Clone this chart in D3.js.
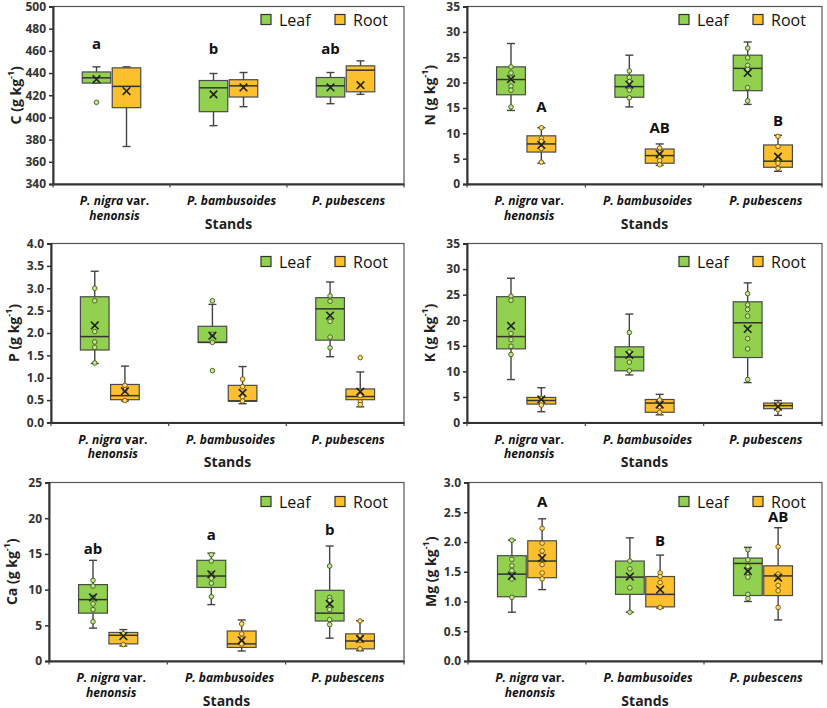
<!DOCTYPE html>
<html><head><meta charset="utf-8">
<script src="https://cdn.jsdelivr.net/npm/d3@7"></script>
<style>body{margin:0;background:#fff}</style>
</head><body>
<script>
// ---------- DATA ----------
const stands = ["P. nigra var. henonsis", "P. bambusoides", "P. pubescens"];
const tissues = ["Leaf", "Root"];
// stats per stand: [min, q1, median, q3, max, mean]
const C_leaf = [[431, 431, 435.7, 441, 445.6, 434.5], [392.6, 405.2, 426.7, 433.3, 439.6, 420.8], [412.4, 418.4, 428.5, 436.0, 440.5, 427.0]];
const C_root = [[373.8, 408.8, 428, 444.7, 445.6, 423.8], [409.7, 418.4, 428.5, 434, 440.5, 427.0], [420.8, 423.1, 442.6, 446.5, 451.0, 429.1]];
const C_leafPts = [[413.6], [], []];
const C_rootPts = [[], [], []];
const N_leaf = [[14.5, 17.6, 20.6, 23.1, 27.7, 20.7], [15.2, 17.1, 19.2, 21.5, 25.4, 19.6], [15.7, 18.4, 22.8, 25.4, 28.0, 21.9]];
const N_root = [[4.1, 6.3, 7.9, 9.5, 11.1, 7.7], [3.7, 4.1, 5.6, 6.9, 7.9, 5.9], [2.5, 3.3, 4.5, 7.7, 9.6, 5.4]];
const N_leafPts = [[23.1, 21.9, 20.9, 19.3, 18.5, 15.2], [22.3, 21.0, 20.2, 18.5, 17.0], [26.8, 24.9, 23.4, 22.6, 19.0, 16.4]];
const N_rootPts = [[11.1, 9.0, 8.4, 7.0, 4.3], [7.1, 6.2, 5.4, 4.6, 3.8], [9.4, 7.4, 5.0, 4.1, 3.1]];
const P_leaf = [[1.32, 1.62, 1.92, 2.81, 3.38, 2.17], [1.79, 1.79, 1.79, 2.15, 2.64, 1.94], [1.47, 1.84, 2.54, 2.79, 3.14, 2.39]];
const P_root = [[0.48, 0.51, 0.60, 0.85, 1.26, 0.70], [0.42, 0.48, 0.48, 0.83, 1.25, 0.66], [0.35, 0.51, 0.58, 0.75, 1.13, 0.69]];
const P_leafPts = [[3.0, 2.72, 2.03, 1.80, 1.68, 1.33], [2.72, 1.97, 1.79, 1.16], [2.83, 2.71, 2.26, 1.91, 1.67]];
const P_rootPts = [[0.83, 0.73, 0.49], [0.97, 0.80, 0.57, 0.48], [1.45, 0.60, 0.46, 0.40]];
const K_leaf = [[8.4, 14.4, 16.8, 24.6, 28.2, 18.9], [9.3, 10.1, 12.8, 14.8, 21.2, 13.2], [7.8, 12.7, 19.5, 23.6, 27.3, 18.3]];
const K_root = [[2.1, 3.6, 4.3, 4.9, 6.8, 4.5], [1.5, 2.0, 3.8, 4.5, 5.5, 3.5], [1.4, 2.7, 3.3, 3.8, 4.3, 3.1]];
const K_leafPts = [[24.7, 23.9, 17.4, 16.2, 14.9, 13.3], [17.6, 13.8, 11.8, 10.1], [25.2, 23.0, 22.1, 20.8, 16.4, 14.4, 8.4]];
const K_rootPts = [[4.7, 3.9, 3.4], [4.4, 3.1, 2.0], [3.4, 2.5]];
const Ca_leaf = [[4.6, 6.7, 8.6, 10.7, 14.1, 8.9], [7.9, 10.3, 11.9, 14.1, 15.1, 12.15], [3.2, 5.6, 6.7, 9.9, 16.1, 8.0]];
const Ca_root = [[2.1, 2.4, 3.6, 4.0, 4.4, 3.5], [1.4, 1.9, 2.4, 4.2, 5.75, 2.9], [1.45, 1.7, 2.8, 3.8, 5.65, 3.1]];
const Ca_leafPts = [[11.3, 10.5, 8.9, 8.0, 7.2, 5.5], [14.9, 14.0, 12.2, 11.6, 10.9, 9.0], [13.3, 8.9, 8.5, 7.2, 5.8, 5.1]];
const Ca_rootPts = [[3.8, 2.3], [5.2, 3.8, 3.1, 2.4], [5.6, 3.5, 2.9, 1.7]];
const Mg_leaf = [[0.82, 1.08, 1.46, 1.77, 2.03, 1.43], [0.82, 1.12, 1.41, 1.68, 2.07, 1.42], [1.00, 1.10, 1.64, 1.73, 1.91, 1.51]];
const Mg_root = [[1.20, 1.40, 1.68, 2.02, 2.39, 1.73], [0.89, 0.91, 1.12, 1.42, 1.78, 1.20], [0.69, 1.10, 1.43, 1.60, 2.24, 1.40]];
const Mg_leafPts = [[2.03, 1.71, 1.60, 1.52, 1.38, 1.07], [1.68, 1.55, 1.23, 0.82], [1.87, 1.70, 1.59, 1.48, 1.41, 1.12, 1.05]];
const Mg_rootPts = [[2.23, 1.98, 1.85, 1.77, 1.62, 1.48, 1.38], [1.48, 1.42, 1.32, 0.90], [1.92, 1.46, 1.41, 1.27, 1.18, 0.90]];
// significance letters and the value of their baseline
const C_letters = ["a", "b", "ab"], C_letterY = [462, 456.9, 456.9];
const N_letters = ["A", "AB", "B"], N_letterY = [14.1, 10.15, 11.5];
const Ca_letters = ["ab", "a", "b"], Ca_letterY = [14.95, 16.9, 17.6];
const Mg_letters = ["A", "B", "AB"], Mg_letterY = [2.58, 1.93, 2.33];
// y ticks
const C_ticks = d3.range(340, 501, 20);
const N_ticks = d3.range(0, 36, 5);
const P_ticks = d3.range(0, 4.01, 0.5);
const K_ticks = d3.range(0, 36, 5);
const Ca_ticks = d3.range(0, 26, 5);
const Mg_ticks = d3.range(0, 3.01, 0.5);

const panels = [
  {name: "C", leaf: C_leaf, root: C_root, lp: C_leafPts, rp: C_rootPts, ticks: C_ticks, fmt: d3.format("d"), letters: C_letters, letterY: C_letterY, letterOn: "Leaf"},
  {name: "N", leaf: N_leaf, root: N_root, lp: N_leafPts, rp: N_rootPts, ticks: N_ticks, fmt: d3.format("d"), letters: N_letters, letterY: N_letterY, letterOn: "Root"},
  {name: "P", leaf: P_leaf, root: P_root, lp: P_leafPts, rp: P_rootPts, ticks: P_ticks, fmt: d3.format(".1f")},
  {name: "K", leaf: K_leaf, root: K_root, lp: K_leafPts, rp: K_rootPts, ticks: K_ticks, fmt: d3.format("d")},
  {name: "Ca", leaf: Ca_leaf, root: Ca_root, lp: Ca_leafPts, rp: Ca_rootPts, ticks: Ca_ticks, fmt: d3.format("d"), letters: Ca_letters, letterY: Ca_letterY, letterOn: "Leaf"},
  {name: "Mg", leaf: Mg_leaf, root: Mg_root, lp: Mg_leafPts, rp: Mg_rootPts, ticks: Mg_ticks, fmt: d3.format(".1f"), letters: Mg_letters, letterY: Mg_letterY, letterOn: "Root"}
];

// ---------- LAYOUT ----------
const layout = [
  {x0: 53, x1: 404, y0: 6.5, y1: 184, ld: 8},
  {x0: 467, x1: 822, y0: 6.5, y1: 184, ld: 8},
  {x0: 51, x1: 404, y0: 243.5, y1: 422.5, ld: 13},
  {x0: 467, x1: 822, y0: 243.5, y1: 422.5, ld: 13},
  {x0: 49, x1: 404, y0: 482.5, y1: 661, ld: 14},
  {x0: 468, x1: 822, y0: 482.5, y1: 661, ld: 14}
];
const FONT = "'Open Sans', 'Noto Sans', sans-serif";
const fill = {Leaf: "#92d050", Root: "#fcbf2e"};
const ptFill = {Leaf: "#c3e68f", Root: "#ffdd6a"};
const ptStroke = {Leaf: "#3d5a1a", Root: "#6b5010"};

const svg = d3.select("body").append("svg").attr("width", 827).attr("height", 708)
  .style("font-family", FONT);

panels.forEach((p, i) => drawPanel(p, layout[i]));

function drawPanel(p, L) {
  const g = svg.append("g");
  const x = d3.scaleBand().domain(stands).range([L.x0, L.x1]);
  const y = d3.scaleLinear().domain([p.ticks[0], p.ticks[p.ticks.length - 1]]).range([L.y1, L.y0]);
  const sub = d3.scaleBand().domain(tissues).range([0, x.bandwidth()]).paddingInner(0.05).paddingOuter(0.975);

  // frame
  g.append("rect").attr("x", L.x0).attr("y", L.y0).attr("width", L.x1 - L.x0).attr("height", L.y1 - L.y0)
    .attr("fill", "none").attr("stroke", "#555").attr("stroke-width", 1.2);

  // y axis
  const ya = g.append("g").attr("transform", `translate(${L.x0},0)`)
    .call(d3.axisLeft(y).tickValues(p.ticks).tickSize(4).tickPadding(3).tickFormat(p.fmt));
  ya.select(".domain").attr("stroke", "#333").attr("stroke-width", 2);
  ya.selectAll(".tick line").attr("stroke", "#333").attr("stroke-width", 1.5);
  ya.selectAll(".tick text").attr("fill", "#333").style("font-size", "12px").style("font-weight", "700").style("font-family", FONT);

  // x axis
  const xa = g.append("g").attr("transform", `translate(0,${L.y1})`)
    .call(d3.axisBottom(x).tickSize(0).tickFormat(""));
  xa.select(".domain").attr("stroke", "#333").attr("stroke-width", 2.2);
  const bounds = stands.map(s => x(s)).concat([L.x1]);
  g.selectAll(".bt").data(bounds).join("line")
    .attr("x1", d => d).attr("x2", d => d).attr("y1", L.y1).attr("y2", L.y1 + 3.5)
    .attr("stroke", "#444").attr("stroke-width", 1.2);

  // boxes
  tissues.forEach(t => {
    const stats = t === "Leaf" ? p.leaf : p.root;
    const pts = t === "Leaf" ? p.lp : p.rp;
    stands.forEach((s, j) => {
      const [mn, q1, md, q3, mx, mean] = stats[j];
      const bx = x(s) + sub(t), bw = sub.bandwidth(), cx = bx + bw / 2;
      const gg = g.append("g");
      gg.append("line").attr("x1", cx).attr("x2", cx).attr("y1", y(mx)).attr("y2", y(mn))
        .attr("stroke", "#444").attr("stroke-width", 1.4);
      [mn, mx].forEach(v => gg.append("line").attr("x1", cx - 4).attr("x2", cx + 4).attr("y1", y(v)).attr("y2", y(v))
        .attr("stroke", "#444").attr("stroke-width", 1.4));
      gg.append("rect").attr("x", bx).attr("y", y(q3)).attr("width", bw).attr("height", Math.max(0.5, y(q1) - y(q3)))
        .attr("fill", fill[t]).attr("stroke", "#4a4a4a").attr("stroke-width", 1.2);
      gg.append("line").attr("x1", bx).attr("x2", bx + bw).attr("y1", y(md)).attr("y2", y(md))
        .attr("stroke", "#333").attr("stroke-width", 1.5);
      gg.selectAll("circle").data(pts[j]).join("circle")
        .attr("cx", cx).attr("cy", d => y(d)).attr("r", 2.3)
        .attr("fill", ptFill[t]).attr("stroke", ptStroke[t]).attr("stroke-width", 0.9);
      const my = y(mean), m = 3.8;
      gg.append("path").attr("d", `M${cx - m},${my - m}L${cx + m},${my + m}M${cx - m},${my + m}L${cx + m},${my - m}`)
        .attr("stroke", "#222").attr("stroke-width", 1.6).attr("fill", "none");
    });
  });

  // letters
  if (p.letters) {
    stands.forEach((s, j) => {
      g.append("text").attr("x", x(s) + sub(p.letterOn) + sub.bandwidth() / 2).attr("y", y(p.letterY[j]))
        .attr("text-anchor", "middle").style("font-size", "15px").style("font-weight", "700").attr("fill", "#111")
        .text(p.letters[j]);
    });
  }

  // y title
  const yt = g.append("text").attr("transform", `translate(${L.x0 - 38},${(L.y0 + L.y1) / 2}) rotate(-90)`)
    .attr("text-anchor", "middle").attr("dominant-baseline", "central")
    .style("font-size", "14px").style("font-weight", "700").attr("fill", "#222");
  yt.append("tspan").text(`${p.name} (g kg`);
  yt.append("tspan").attr("dy", -5).style("font-size", "9px").text("-1");
  yt.append("tspan").attr("dy", 5).text(")");

  // category labels
  stands.forEach((s, j) => {
    const cx = x(s) + x.bandwidth() / 2 + 3;
    const t = g.append("text").attr("x", cx).attr("y", L.y1 + 21).attr("text-anchor", "middle")
      .style("font-size", "12px").style("font-weight", "700").attr("fill", "#111");
    if (j === 0) {
      const parts = s.split(" var. ");
      t.append("tspan").style("font-style", "italic").text(parts[0]);
      t.append("tspan").text(" var.");
      g.append("text").attr("x", cx).attr("y", L.y1 + 35.5).attr("text-anchor", "middle")
        .style("font-size", "12px").style("font-weight", "700").style("font-style", "italic").attr("fill", "#111")
        .text(parts[1]);
    } else {
      t.style("font-style", "italic").text(s);
    }
  });
  g.append("text").attr("x", (L.x0 + L.x1) / 2).attr("y", L.y1 + 44.5).attr("text-anchor", "middle")
    .style("font-size", "14px").style("font-weight", "700").attr("fill", "#222").text("Stands");

  // legend
  const lg = g.append("g").attr("transform", `translate(${L.x1},${L.y0 + L.ld})`);
  const lx = {Leaf: -143, Root: -69};
  tissues.forEach(t => {
    lg.append("rect").attr("x", lx[t]).attr("y", 0).attr("width", 10).attr("height", 10)
      .attr("fill", fill[t]).attr("stroke", "#333").attr("stroke-width", 1.2);
    lg.append("text").attr("x", lx[t] + 18).attr("y", 11).style("font-size", "16px").attr("fill", "#111").text(t);
  });
}
</script>
</body></html>
